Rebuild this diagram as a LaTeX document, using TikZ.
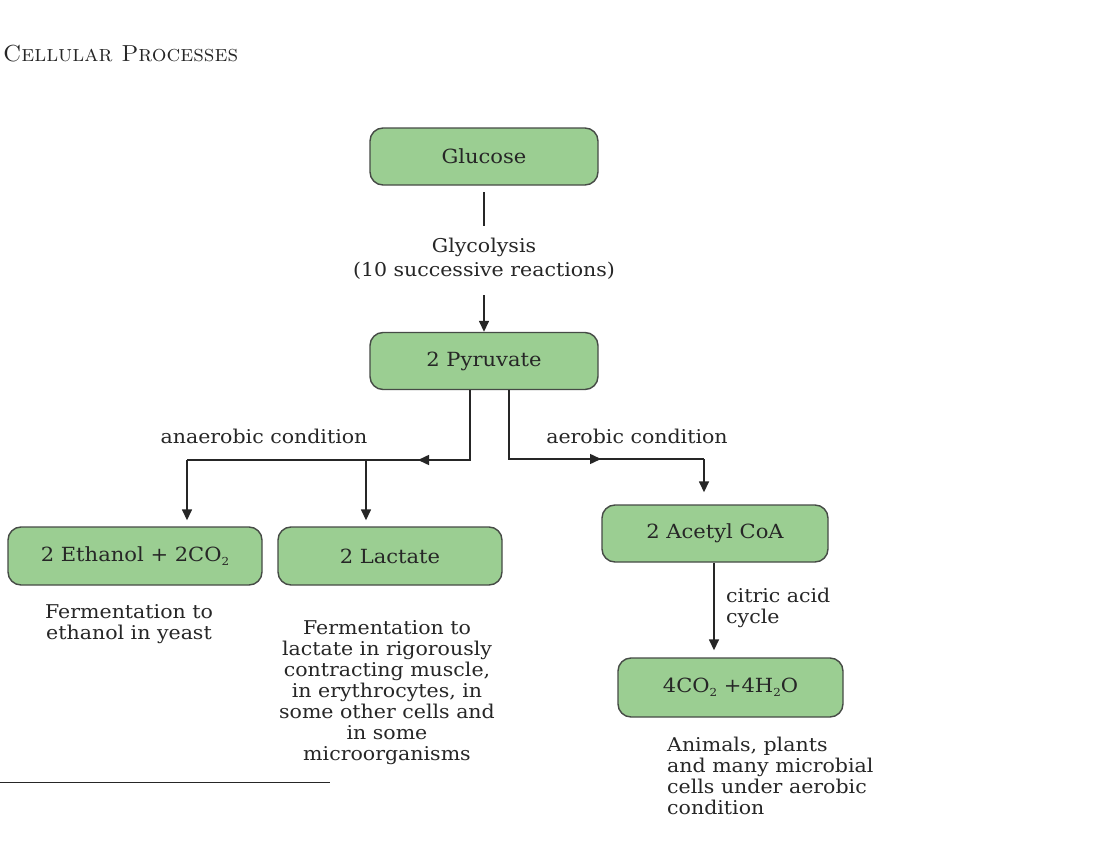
\documentclass[tikz,border=0pt]{standalone}
\usepackage{fontspec}
\newfontfamily\dvs[FakeStretch=1.08]{DejaVu Serif}
\usetikzlibrary{arrows.meta}
\definecolor{boxgreen}{RGB}{155,206,146}
\definecolor{edge}{RGB}{70,75,70}
\definecolor{ink}{RGB}{38,38,38}
\newcommand\chemsub[1]{\raisebox{-0.35ex}{\fontsize{11}{11}\selectfont #1}}
\tikzset{
  proc/.style={draw=edge, line width=1.4pt, fill=boxgreen, rounded corners=13pt,
    minimum height=57pt, inner sep=0pt, text=ink, font=\dvs\fontsize{19.5}{22}\selectfont},
  lbl/.style={inner sep=0pt, text=ink, align=center, font=\dvs\fontsize{19}{21}\selectfont},
  conn/.style={draw=ink, line width=1.5pt},
  arr/.style={conn, -{Triangle[length=11pt,width=10pt]}},
}
\begin{document}
\begin{tikzpicture}[x=1pt,y=-1pt]
\useasboundingbox (0,0) rectangle (1104,843);
\fill[white] (0,0) rectangle (1104,843);

\node[anchor=base west, inner sep=0pt, text=ink, font=\fontsize{23.2}{28}\selectfont\scshape] (title) at (3,62) {Cellular Processes};

\node[proc, minimum width=228pt] (glu) at (484,156.5) {Glucose};
\node[lbl, anchor=north, font=\dvs\fontsize{19}{24}\selectfont] (gly) at (484,238) {Glycolysis\\(10 successive reactions)};
\node[proc, minimum width=228pt] (pyr) at (484,361) {2 Pyruvate};

\node[lbl, anchor=base] (ana) at (264,443) {anaerobic condition};
\node[lbl, anchor=base] (aer) at (637,443) {aerobic condition};

\node[proc, minimum width=254pt, minimum height=58pt] (eth) at (135,556) {2 Ethanol + 2CO\chemsub{2}};
\node[proc, minimum width=224pt, minimum height=58pt] (lac) at (390,556) {2 Lactate};
\node[proc, minimum width=226pt] (acc) at (715,533.5) {2 Acetyl CoA};
\node[proc, minimum width=225pt, minimum height=59pt] (co2) at (730.5,687.5) {4CO\chemsub{2} +4H\chemsub{2}O};

\node[lbl, anchor=north west, align=left] (cit) at (726,588) {citric acid\\cycle};
\node[lbl, anchor=north] (ferE) at (129,604) {Fermentation to\\ethanol in yeast};
\node[lbl, anchor=north] (ferL) at (387,620) {Fermentation to\\lactate in rigorously\\contracting muscle,\\in erythrocytes, in\\some other cells and\\in some\\microorganisms};
\node[lbl, anchor=north west, align=left] (ani) at (667,737) {Animals, plants\\and many microbial\\cells under aerobic\\condition};

% glucose -> pyruvate
\coordinate (g1) at (484,192);
\coordinate (g2) at (484,226);
\coordinate (g3) at (484,295);
\draw[conn] (g1) -- (g2);
\draw[arr] (g3) -- (pyr.north);

% anaerobic branch
\coordinate (L0) at (470,460);
\coordinate (Lend) at (187,460);
\coordinate (Lmid) at (366,460);
\draw[conn] (pyr.south -| L0) -- (L0) -- (Lend);
\draw[arr] (L0) -- ++(-52,0);
\draw[arr, shorten >=6pt] (Lend) -- (Lend |- eth.north);
\draw[arr, shorten >=6pt] (Lmid) -- (Lmid |- lac.north);

% aerobic branch
\coordinate (R0) at (509,459);
\coordinate (R1) at (704,459);
\draw[conn] (pyr.south -| R0) -- (R0) -- (R1);
\draw[arr] (R0) -- ++(92,0);
\draw[arr, shorten >=12pt] (R1) -- (R1 |- acc.north);

% citric acid cycle
\coordinate (C0) at (714,600);
\draw[arr, shorten >=7pt] (acc.south -| C0) -- (co2.north -| C0);

% footnote rule
\coordinate (f1) at (0,782);
\coordinate (f2) at (330,782);
\draw[line width=0.8pt, ink] (f1) -- (f2);
\end{tikzpicture}
\end{document}
